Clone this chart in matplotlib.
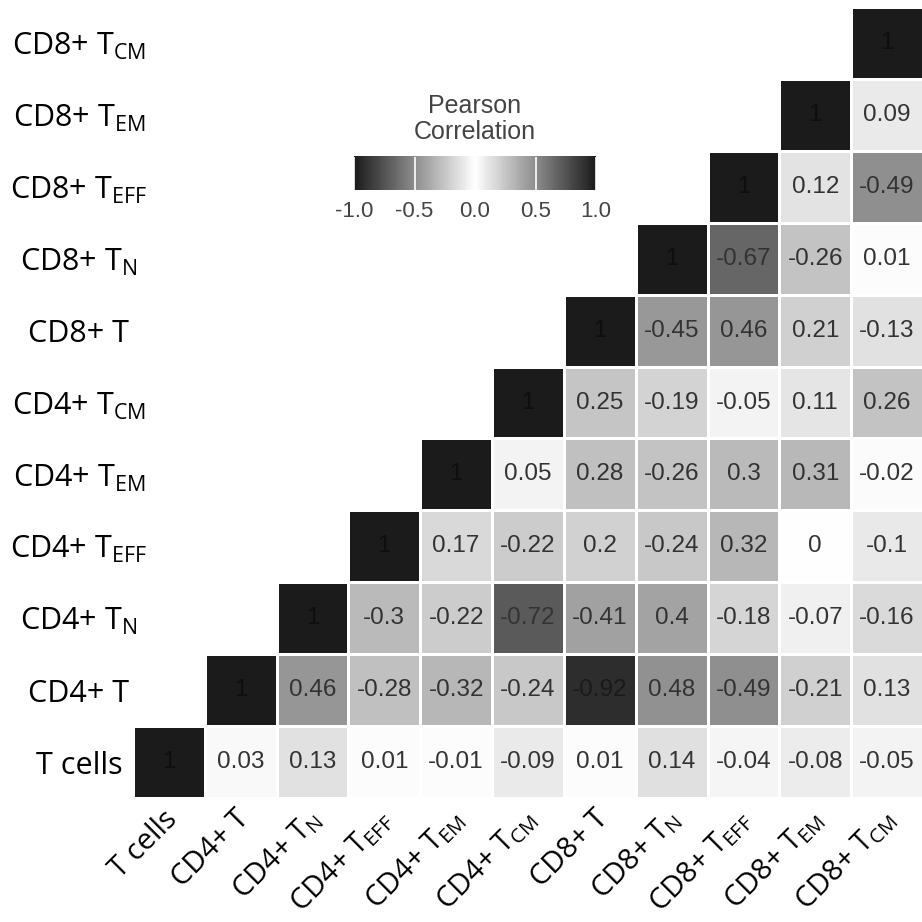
import numpy as np
import matplotlib
matplotlib.use("Agg")
import matplotlib.pyplot as plt
from matplotlib.colors import LinearSegmentedColormap
from matplotlib.transforms import ScaledTranslation

# cell types, bottom row / left column first
labels = ["T cells", "CD4+ T", r"CD4+ T$_\mathregular{N}$", r"CD4+ T$_\mathregular{EFF}$",
          r"CD4+ T$_\mathregular{EM}$", r"CD4+ T$_\mathregular{CM}$", "CD8+ T",
          r"CD8+ T$_\mathregular{N}$", r"CD8+ T$_\mathregular{EFF}$",
          r"CD8+ T$_\mathregular{EM}$", r"CD8+ T$_\mathregular{CM}$"]

# each row starts on the diagonal
row_tcells = [1, 0.03, 0.13, 0.01, -0.01, -0.09, 0.01, 0.14, -0.04, -0.08, -0.05]
row_cd4 = [1, 0.46, -0.28, -0.32, -0.24, -0.92, 0.48, -0.49, -0.21, 0.13]
row_cd4_n = [1, -0.3, -0.22, -0.72, -0.41, 0.4, -0.18, -0.07, -0.16]
row_cd4_eff = [1, 0.17, -0.22, 0.2, -0.24, 0.32, 0, -0.1]
row_cd4_em = [1, 0.05, 0.28, -0.26, 0.3, 0.31, -0.02]
row_cd4_cm = [1, 0.25, -0.19, -0.05, 0.11, 0.26]
row_cd8 = [1, -0.45, 0.46, 0.21, -0.13]
row_cd8_n = [1, -0.67, -0.26, 0.01]
row_cd8_eff = [1, 0.12, -0.49]
row_cd8_em = [1, 0.09]
row_cd8_cm = [1]

rows = [row_tcells, row_cd4, row_cd4_n, row_cd4_eff, row_cd4_em, row_cd4_cm,
        row_cd8, row_cd8_n, row_cd8_eff, row_cd8_em, row_cd8_cm]

n = len(labels)
corr = np.full((n, n), np.nan)
for i, r in enumerate(rows):
    corr[i, i:] = r

cmap = LinearSegmentedColormap.from_list("grey_div", ["#1b1b1b", "#ffffff", "#1b1b1b"])

W = 922
fig = plt.figure(figsize=(9.22, 9.22), dpi=100)
ax = fig.add_axes([133 / W, (W - 798) / W, 790 / W, 791 / W])

mesh = ax.pcolormesh(np.arange(n + 1), np.arange(n + 1), np.ma.masked_invalid(corr),
                     cmap=cmap, vmin=-1, vmax=1, edgecolors="white", linewidth=2)

for i in range(n):
    for j in range(i, n):
        v = corr[i, j]
        col = "#0e0e0e" if i == j else "#333333"
        if v < -0.85 and i != j:
            col = "#1a1a1a"
        ax.text(j + 0.5, i + 0.5, f"{v:g}", ha="center", va="center",
                fontsize=17.5, color=col, family="Liberation Sans")

ax.set_xlim(0, n)
ax.set_ylim(0, n)
for s in ax.spines.values():
    s.set_visible(False)

ax.set_xticks(np.arange(n) + 0.5)
ax.set_yticks(np.arange(n) + 0.5)
ax.set_xticklabels(labels, rotation=45, ha="right", va="center",
                   rotation_mode="anchor", fontsize=21, family="Open Sans")
ax.set_yticklabels(labels, ha="center", fontsize=22, family="Open Sans")
ax.tick_params(axis="both", length=0)
ax.tick_params(axis="y", pad=39)
ax.tick_params(axis="x", pad=0)
off = ScaledTranslation(4 / 100, -17 / 100, fig.dpi_scale_trans)
for lab in ax.get_xticklabels():
    lab.set_transform(lab.get_transform() + off)

# legend bar
cax = fig.add_axes([354 / W, (W - 190) / W, 242 / W, 34 / W])
cb = fig.colorbar(mesh, cax=cax, orientation="horizontal", ticks=[-1, -0.5, 0, 0.5, 1])
cb.outline.set_visible(False)
cb.ax.set_xticklabels(["-1.0", "-0.5", "0.0", "0.5", "1.0"])
cax.tick_params(axis="x", direction="in", length=24, width=1.2, color="white",
                labelcolor="#444444", labelsize=16, pad=8)
for t in cax.get_xticklabels():
    t.set_family("Liberation Sans")
cax.set_title("Pearson\nCorrelation", fontsize=18, color="#444444",
              family="Liberation Sans", linespacing=1.1, pad=12)

fig.savefig("out.png", dpi=100)
